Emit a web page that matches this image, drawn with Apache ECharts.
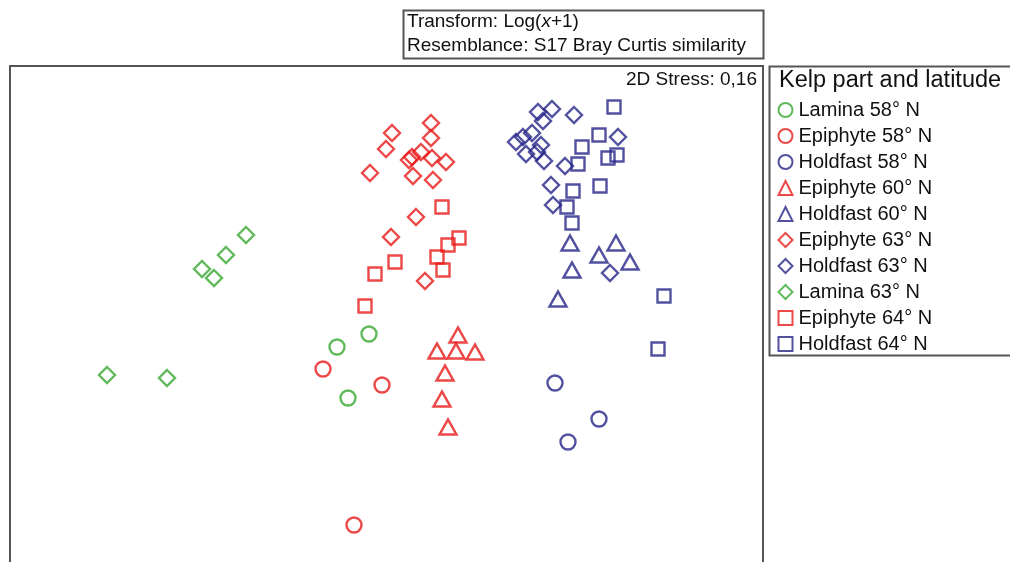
<!DOCTYPE html>
<html>
<head>
<meta charset="utf-8">
<title>Kelp MDS</title>
<script src="https://cdn.jsdelivr.net/npm/echarts@6/dist/echarts.min.js"></script>
<style>
	html, body { margin: 0; padding: 0; background: #fff; }
	#tb1 { width: 1010px; height: 562px; }
</style>
</head>
<body>
<div id="tb1"></div>
<script>
/*	MDS points, [MDS1, MDS2] (arbitrary units)	*/
var lamina58 = [[359, 268], [327, 281], [338, 332]];
var epiphyte58 = [[313, 303], [372, 319], [344, 459]];
var holdfast58 = [[545, 317], [589, 353], [558, 376]];
var epiphyte60 = [[448, 269], [427, 285], [446, 285], [465, 286], [435, 307], [432, 333], [438, 361]];
var holdfast60 = [[560, 177], [606, 177], [589, 189], [620, 196], [562, 204], [548, 233]];
var epiphyte63 = [[421, 57], [382, 67], [421, 72], [376, 83], [411, 86], [399, 94], [402, 91], [422, 92],
	[436, 96], [360, 107], [403, 110], [423, 114], [406, 151], [381, 171], [415, 215]];
var holdfast63 = [[528, 46], [542, 43], [533, 55], [564, 49], [506, 76], [513, 71], [522, 67], [531, 79],
	[516, 88], [527, 86], [534, 95], [555, 100], [608, 71], [541, 119], [543, 139], [600, 207]];
var lamina63 = [[236, 169], [216, 189], [192, 203], [204, 212], [97, 309], [157, 312]];
var epiphyte64 = [[432, 141], [449, 172], [438, 179], [427, 191], [433, 204], [385, 196], [365, 208], [355, 240]];
var holdfast64 = [[604, 41], [589, 69], [572, 81], [598, 92], [607, 89], [568, 98], [590, 120], [563, 125],
	[557, 141], [562, 157], [654, 230], [648, 283]];

var groupNames = ['Lamina 58° N', 'Epiphyte 58° N', 'Holdfast 58° N', 'Epiphyte 60° N', 'Holdfast 60° N',
	'Epiphyte 63° N', 'Holdfast 63° N', 'Lamina 63° N', 'Epiphyte 64° N', 'Holdfast 64° N'];
var groupData = [lamina58, epiphyte58, holdfast58, epiphyte60, holdfast60,
	epiphyte63, holdfast63, lamina63, epiphyte64, holdfast64];

var GREEN = '#3aa832', RED = '#e81a1a', BLUE = '#262688';
var groupColors = [GREEN, RED, BLUE, RED, BLUE, RED, BLUE, GREEN, RED, BLUE];
var groupSymbols = ['circle', 'circle', 'circle', 'triangle', 'triangle',
	'diamond', 'diamond', 'diamond', 'rect', 'rect'];
var symbolSizes = { circle: 15, triangle: [17, 15], diamond: 16, rect: 13 };

var FONT = '"Liberation Sans", Arial, sans-serif';

var myChart = echarts.init(document.getElementById('tb1'));

var series = [];
for (var i = 0; i < groupNames.length; i++) {
	series.push({
		name: groupNames[i],
		type: 'scatter',
		data: groupData[i],
		symbol: groupSymbols[i],
		symbolSize: symbolSizes[groupSymbols[i]],
		itemStyle: {
			color: 'none',
			borderColor: groupColors[i],
			borderWidth: 2.4
		},
		emphasis: { disabled: true }
	});
}

var option = {
	animation: false,
	backgroundColor: '#fff',
	textStyle: { fontFamily: FONT },
	/*	plot box runs past the bottom edge, so the frame is drawn as a graphic	*/
	grid: {
		show: false,
		left: 10,
		top: 66,
		width: 753,
		height: 496
	},
	xAxis: {
		type: 'value', min: 0, max: 753,
		axisLine: { show: false }, axisTick: { show: false },
		axisLabel: { show: false }, splitLine: { show: false }
	},
	yAxis: {
		type: 'value', min: 0, max: 496, inverse: true,
		axisLine: { show: false }, axisTick: { show: false },
		axisLabel: { show: false }, splitLine: { show: false }
	},
	legend: {
		orient: 'vertical',
		left: 776,
		top: 100,
		padding: 0,
		itemWidth: 14,
		itemHeight: 14,
		itemGap: 6,
		selectedMode: false,
		textStyle: { fontFamily: FONT, fontSize: 20, color: '#111', lineHeight: 20, padding: [0, 0, 0, 1] },
		data: groupNames.map(function (n, k) { return { name: n, icon: groupSymbols[k] }; })
	},
	graphic: [
		/*	plot frame	*/
		{ type: 'rect', shape: { x: 10, y: 66, width: 753, height: 520 },
			style: { fill: 'none', stroke: '#555', lineWidth: 2 }, z: 0 },
		/*	Transform box	*/
		{ type: 'rect', shape: { x: 403.5, y: 10.5, width: 360, height: 48 },
			style: { fill: '#fff', stroke: '#555', lineWidth: 2 } },
		{ type: 'text', x: 407, y: 22,
			style: {
				text: 'Transform: Log({i|x}+1)',
				font: '19px ' + FONT, fill: '#111', verticalAlign: 'middle',
				rich: { i: { fontStyle: 'italic', fontSize: 19, fontFamily: FONT } }
			} },
		{ type: 'text', x: 407, y: 46,
			style: { text: 'Resemblance: S17 Bray Curtis similarity', font: '19px ' + FONT,
				fill: '#111', verticalAlign: 'middle' } },
		/*	Stress	*/
		{ type: 'text', x: 757, y: 80,
			style: { text: '2D Stress: 0,16', font: '19px ' + FONT, fill: '#111',
				align: 'right', verticalAlign: 'middle' } },
		/*	legend box	*/
		{ type: 'rect', shape: { x: 769.5, y: 66.5, width: 260, height: 289 },
			style: { fill: 'none', stroke: '#555', lineWidth: 2 } },
		{ type: 'text', x: 779, y: 81,
			style: { text: 'Kelp part and latitude', font: '23.5px ' + FONT, fill: '#111',
				verticalAlign: 'middle' } }
	],
	series: series
};
myChart.setOption(option);
</script>
</body>
</html>
